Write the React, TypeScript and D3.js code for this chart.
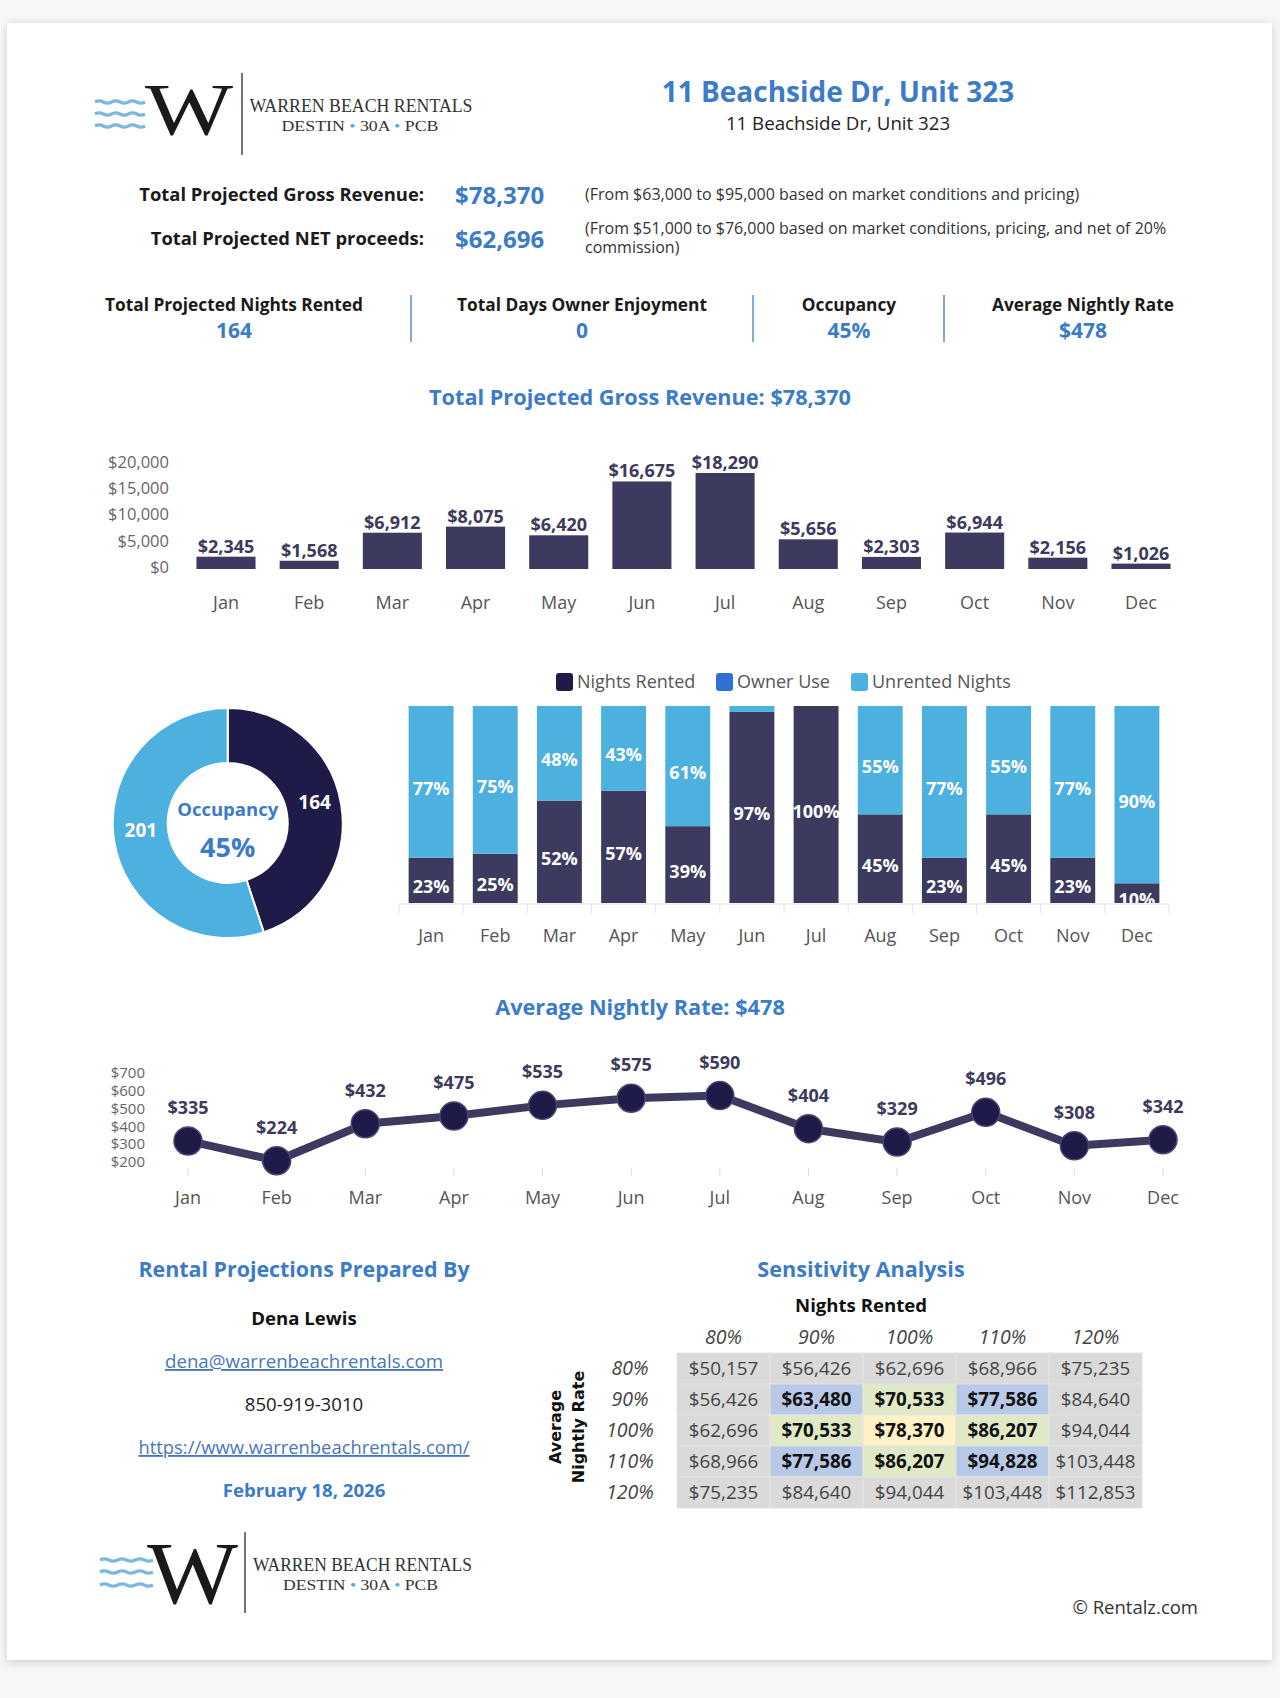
import React from 'react';
import * as d3 from 'd3';

// ---------- data ----------
const months = ['Jan', 'Feb', 'Mar', 'Apr', 'May', 'Jun', 'Jul', 'Aug', 'Sep', 'Oct', 'Nov', 'Dec'];
const revenue = [2345, 1568, 6912, 8075, 6420, 16675, 18290, 5656, 2303, 6944, 2156, 1026];
const revenueTicks = [0, 5000, 10000, 15000, 20000];

const stackSeries = ['Nights Rented', 'Owner Use', 'Unrented Nights'];
const rentedPct = [23, 25, 52, 57, 39, 97, 100, 45, 23, 45, 23, 10];
const ownerPct = [0, 0, 0, 0, 0, 0, 0, 0, 0, 0, 0, 0];
const unrentedPct = [77, 75, 48, 43, 61, 3, 0, 55, 77, 55, 77, 90];

const donutLabels = ['Nights Rented', 'Unrented Nights'];
const donutValues = [164, 201];
const occupancyLabel = '45%';

const nightlyRate = [335, 224, 432, 475, 535, 575, 590, 404, 329, 496, 308, 342];
const rateTicks = [200, 300, 400, 500, 600, 700];

const sensCols = ['80%', '90%', '100%', '110%', '120%'];
const sensRows = ['80%', '90%', '100%', '110%', '120%'];
const sensValues = [
  [50157, 56426, 62696, 68966, 75235],
  [56426, 63480, 70533, 77586, 84640],
  [62696, 70533, 78370, 86207, 94044],
  [68966, 77586, 86207, 94828, 103448],
  [75235, 84640, 94044, 103448, 112853],
];
const sensHighlight = [
  ['n', 'n', 'n', 'n', 'n'],
  ['n', 'b', 'g', 'b', 'n'],
  ['n', 'g', 'y', 'g', 'n'],
  ['n', 'b', 'g', 'b', 'n'],
  ['n', 'n', 'n', 'n', 'n'],
];

const kpiLabels = ['Total Projected Nights Rented', 'Total Days Owner Enjoyment', 'Occupancy', 'Average Nightly Rate'];
const kpiValues = ['164', '0', '45%', '$478'];

// ---------- styles ----------
const FONT = "'Open Sans', sans-serif";
const SERIF = "'Liberation Serif', 'DejaVu Serif', serif";
const BLUE = '#3b7bc8';
const BAR = '#3d3a60';
const NAVY = '#1f1b49';
const LIGHT = '#4db1e0';
const OWNER = '#2f6fd8';
const stackColors = [BAR, OWNER, LIGHT];
const cellFill: Record<string, string> = { n: '#dadada', b: '#b7c9e6', g: '#dfe9c6', y: '#fff2c6' };

const fmtMoney = d3.format('$,');

function wavePath(x0: number, x1: number, y: number, amp: number, n: number) {
  const w = (x1 - x0) / n;
  let d = `M${x0},${y}`;
  for (let i = 0; i < n; i++) {
    const cx = x0 + (i + 0.5) * w;
    const cy = y + (i % 2 === 0 ? -amp : amp);
    d += ` Q${cx},${cy} ${x0 + (i + 1) * w},${y}`;
  }
  return d;
}

function Logo(props: {
  wx0: number; wx1: number; wy: number[]; wX: number; wY: number; wSize: number; wLen: number;
  lineX: number; lineY0: number; lineY1: number; tX: number; tY: number; tLen: number; tSize: number;
  sX: number; sY: number; sLen: number; sSize: number;
}) {
  const p = props;
  return (
    <g>
      {p.wy.map((y, i) => (
        <path key={i} d={wavePath(p.wx0, p.wx1, y, 2.2, 6)} fill="none" stroke="#7ab9dd" strokeWidth={3.2} />
      ))}
      <text x={p.wX} y={p.wY} fontFamily={SERIF} fontSize={p.wSize} fill="#1a1a1a" textLength={p.wLen} lengthAdjust="spacingAndGlyphs">W</text>
      <line x1={p.lineX} x2={p.lineX} y1={p.lineY0} y2={p.lineY1} stroke="#444" strokeWidth={1.5} />
      <text x={p.tX} y={p.tY} fontFamily={SERIF} fontSize={p.tSize} fill="#333" textLength={p.tLen} lengthAdjust="spacingAndGlyphs">WARREN BEACH RENTALS</text>
      <text x={p.sX} y={p.sY} fontFamily={SERIF} fontSize={p.sSize} fill="#333" textLength={p.sLen} lengthAdjust="spacingAndGlyphs">
        DESTIN <tspan fill="#5aa8d6">•</tspan> 30A <tspan fill="#5aa8d6">•</tspan> PCB
      </text>
    </g>
  );
}

export default function App() {
  // revenue bar chart
  const xRev = d3.scaleBand<string>().domain(months).range([184.4, 1182.6]).paddingInner(0.29).paddingOuter(0.145);
  const yRev = d3.scaleLinear().domain([0, 20000]).range([569, 464]);

  // stacked chart
  const xSt = d3.scaleBand<string>().domain(months).range([399, 1169]).paddingInner(0.3).paddingOuter(0.15);
  const ySt = d3.scaleLinear().domain([0, 100]).range([903, 706]);
  const stackRows = months.map((m, i) => ({ month: m, 'Nights Rented': rentedPct[i], 'Owner Use': ownerPct[i], 'Unrented Nights': unrentedPct[i] }));
  const stacked = d3.stack<any>().keys(stackSeries)(stackRows);

  // donut
  const dcx = 227.7, dcy = 823;
  const pie = d3.pie<number>().sort(null).startAngle(0).endAngle(2 * Math.PI)(donutValues);
  const arc = d3.arc<d3.PieArcDatum<number>>().innerRadius(60).outerRadius(115);
  const labelArc = d3.arc<d3.PieArcDatum<number>>().innerRadius(88).outerRadius(88);

  // line chart
  const xLine = d3.scalePoint<string>().domain(months).range([188, 1163]);
  const yLine = d3.scaleLinear().domain([200, 700]).range([1165, 1076]);
  const linePath = d3.line<number>().x((_, i) => xLine(months[i])!).y((d) => yLine(d))(nightlyRate) || '';

  // sensitivity table
  const xTab = d3.scaleBand<string>().domain(sensCols).range([677, 1142]);
  const yTab = d3.scaleBand<string>().domain(sensRows).range([1353, 1508]);

  const kpiX = [234, 582, 849, 1083];
  const sepX = [411, 753, 944];

  return (
    <svg width={1280} height={1698} viewBox="0 0 1280 1698" style={{ position: 'absolute', left: 0, top: 0 }} fontFamily={FONT}>
      <defs>
        <filter id="shadow" x="-5%" y="-5%" width="110%" height="110%">
          <feDropShadow dx="0" dy="2" stdDeviation="5" floodColor="#000" floodOpacity="0.18" />
        </filter>
        <clipPath id="stackClip">
          <rect x={399} y={706} width={770} height={197} />
        </clipPath>
      </defs>
      <rect x={0} y={0} width={1280} height={1698} fill="#f7f7f7" />
      <rect x={7} y={23} width={1265} height={1637} fill="#fff" filter="url(#shadow)" />

      {/* header logo */}
      <Logo wx0={95} wx1={145} wy={[102, 114, 126]} wX={145} wY={135} wSize={75} wLen={88}
        lineX={242} lineY0={73} lineY1={155} tX={249.5} tY={112} tLen={223} tSize={19}
        sX={281.5} sY={131} sLen={157} sSize={15.5} />

      <text x={838} y={102} textAnchor="middle" fontSize={28} fontWeight={700} fill={BLUE}>11 Beachside Dr, Unit 323</text>
      <text x={838} y={130} textAnchor="middle" fontSize={18.7} fill="#222">11 Beachside Dr, Unit 323</text>

      {/* totals */}
      <text x={424} y={201} textAnchor="end" fontSize={18.4} fontWeight={700} fill="#1a1a1a">Total Projected Gross Revenue:</text>
      <text x={455} y={204} fontSize={24} fontWeight={700} fill={BLUE}>$78,370</text>
      <text x={585} y={200} fontSize={16} fill="#333">(From $63,000 to $95,000 based on market conditions and pricing)</text>
      <text x={424} y={245} textAnchor="end" fontSize={18.4} fontWeight={700} fill="#1a1a1a">Total Projected NET proceeds:</text>
      <text x={455} y={248} fontSize={24} fontWeight={700} fill={BLUE}>$62,696</text>
      <text x={585} y={234} fontSize={16} fill="#333">(From $51,000 to $76,000 based on market conditions, pricing, and net of 20%</text>
      <text x={585} y={253} fontSize={16} fill="#333">commission)</text>

      {/* KPIs */}
      {kpiLabels.map((l, i) => (
        <g key={l}>
          <text x={kpiX[i]} y={311} textAnchor="middle" fontSize={17.3} fontWeight={700} fill="#1a1a1a">{l}</text>
          <text x={kpiX[i]} y={338} textAnchor="middle" fontSize={21} fontWeight={700} fill={BLUE}>{kpiValues[i]}</text>
        </g>
      ))}
      {sepX.map((x) => (
        <line key={x} x1={x} x2={x} y1={295} y2={342} stroke="#5b8fcb" strokeWidth={1.5} />
      ))}

      {/* revenue chart */}
      <text x={640} y={405} textAnchor="middle" fontSize={21.7} fontWeight={700} fill={BLUE}>Total Projected Gross Revenue: $78,370</text>
      {revenueTicks.map((t) => (
        <text key={t} x={169} y={yRev(t) - 2} dy="0.35em" textAnchor="end" fontSize={16.5} fill="#666">{fmtMoney(t)}</text>
      ))}
      {revenue.map((v, i) => (
        <g key={months[i]}>
          <rect x={xRev(months[i])} y={yRev(v)} width={xRev.bandwidth()} height={yRev(0) - yRev(v)} fill={BAR} />
          <text x={xRev(months[i])! + xRev.bandwidth() / 2} y={yRev(v) - 4} textAnchor="middle" fontSize={18} fontWeight={700} fill="#3d3a5c">{fmtMoney(v)}</text>
          <text x={xRev(months[i])! + xRev.bandwidth() / 2} y={609} textAnchor="middle" fontSize={18} fill="#555">{months[i]}</text>
        </g>
      ))}

      {/* legend */}
      {stackSeries.map((s, i) => {
        const lx = [556, 716, 851][i];
        return (
          <g key={s}>
            <rect x={lx} y={673} width={17} height={18} rx={3} fill={i === 0 ? NAVY : stackColors[i]} />
            <text x={lx + 21} y={688} fontSize={18} fill="#555">{s}</text>
          </g>
        );
      })}

      {/* donut */}
      <g transform={`translate(${dcx},${dcy})`}>
        {pie.map((p, i) => (
          <path key={i} d={arc(p) || ''} fill={i === 0 ? NAVY : LIGHT} stroke="#fff" strokeWidth={2} />
        ))}
        {pie.map((p, i) => {
          const [lx, ly] = labelArc.centroid(p);
          return (
            <text key={'l' + i} x={lx} y={ly} dy="0.02em" textAnchor="middle" fontSize={19} fontWeight={700} fill="#fff">{donutValues[i]}</text>
          );
        })}
        <text x={0} y={-7} textAnchor="middle" fontSize={18.5} fontWeight={700} fill={BLUE}>Occupancy</text>
        <text x={0} y={34} textAnchor="middle" fontSize={27} fontWeight={700} fill={BLUE}>{occupancyLabel}</text>
      </g>

      {/* stacked bars */}
      <g clipPath="url(#stackClip)">
        {stacked.map((layer, si) => (
          <g key={layer.key} fill={stackColors[si]}>
            {layer.map((d, i) => (
              <rect key={i} x={xSt(months[i])} y={ySt(d[1])} width={xSt.bandwidth()} height={ySt(d[0]) - ySt(d[1])} />
            ))}
          </g>
        ))}
        {stacked.map((layer, si) => (
          <g key={'t' + layer.key}>
            {layer.map((d, i) => {
              const v = d[1] - d[0];
              if (v < 5) return null;
              return (
                <text key={i} x={xSt(months[i])! + xSt.bandwidth() / 2} y={(ySt(d[0]) + ySt(d[1])) / 2 + 13} textAnchor="middle" fontSize={18} fontWeight={700} fill="#fff">{v}%</text>
              );
            })}
          </g>
        ))}
      </g>
      <line x1={399} x2={1169} y1={904} y2={904} stroke="#e2e2e2" strokeWidth={1} />
      {d3.range(13).map((i) => {
        const x = 399 + i * xSt.step();
        return <line key={i} x1={x} x2={x} y1={904} y2={913} stroke="#e2e2e2" strokeWidth={1} />;
      })}
      {months.map((m) => (
        <text key={m} x={xSt(m)! + xSt.bandwidth() / 2} y={942} textAnchor="middle" fontSize={18} fill="#555">{m}</text>
      ))}

      {/* line chart */}
      <text x={640} y={1015} textAnchor="middle" fontSize={21.7} fontWeight={700} fill={BLUE}>Average Nightly Rate: $478</text>
      {rateTicks.map((t) => (
        <text key={t} x={145} y={yLine(t) - 3} dy="0.35em" textAnchor="end" fontSize={15} fill="#666">{fmtMoney(t)}</text>
      ))}
      {months.map((m) => (
        <g key={m}>
          <line x1={xLine(m)} x2={xLine(m)} y1={1168} y2={1176} stroke="#ddd" strokeWidth={1} />
          <text x={xLine(m)} y={1204} textAnchor="middle" fontSize={18} fill="#555">{m}</text>
        </g>
      ))}
      <path d={linePath} fill="none" stroke={BAR} strokeWidth={8} strokeLinejoin="round" />
      {nightlyRate.map((v, i) => (
        <g key={i}>
          <circle cx={xLine(months[i])} cy={yLine(v)} r={14} fill={NAVY} stroke="#4a4770" strokeWidth={1.5} />
          <text x={xLine(months[i])} y={yLine(v) - 27} textAnchor="middle" fontSize={18} fontWeight={700} fill="#3d3a5c">{fmtMoney(v)}</text>
        </g>
      ))}

      {/* contact block */}
      <text x={304} y={1277} textAnchor="middle" fontSize={21.4} fontWeight={700} fill={BLUE}>Rental Projections Prepared By</text>
      <text x={304} y={1325} textAnchor="middle" fontSize={18.6} fontWeight={700} fill="#111">Dena Lewis</text>
      <text x={304} y={1368} textAnchor="middle" fontSize={18.7} fill="#4a76b8" textDecoration="underline">dena@warrenbeachrentals.com</text>
      <text x={304} y={1411} textAnchor="middle" fontSize={18.6} fill="#222">850-919-3010</text>
      <text x={304} y={1454} textAnchor="middle" fontSize={18.4} fill="#4a76b8" textDecoration="underline">https://www.warrenbeachrentals.com/</text>
      <text x={304} y={1497} textAnchor="middle" fontSize={18.6} fontWeight={700} fill={BLUE}>February 18, 2026</text>

      {/* sensitivity */}
      <text x={861} y={1277} textAnchor="middle" fontSize={21.6} fontWeight={700} fill={BLUE}>Sensitivity Analysis</text>
      <text x={861} y={1312} textAnchor="middle" fontSize={18.6} fontWeight={700} fill="#111">Nights Rented</text>
      {sensCols.map((c) => (
        <text key={c} x={xTab(c)! + xTab.bandwidth() / 2} y={1344} textAnchor="middle" fontSize={19.5} fontStyle="italic" fill="#444">{c}</text>
      ))}
      {sensRows.map((r) => (
        <text key={r} x={630} y={yTab(r)! + yTab.bandwidth() / 2} dy="0.35em" textAnchor="middle" fontSize={19.5} fontStyle="italic" fill="#444">{r}</text>
      ))}
      <g transform="translate(566,1427) rotate(-90)">
        <text x={0} y={-5} textAnchor="middle" fontFamily="'DejaVu Sans', sans-serif" fontSize={16} fontWeight={700} fill="#111">Average</text>
        <text x={0} y={18} textAnchor="middle" fontFamily="'DejaVu Sans', sans-serif" fontSize={16} fontWeight={700} fill="#111">Nightly Rate</text>
      </g>
      {sensValues.map((row, ri) =>
        row.map((v, ci) => {
          const h = sensHighlight[ri][ci];
          return (
            <g key={ri + '-' + ci}>
              <rect x={xTab(sensCols[ci])} y={yTab(sensRows[ri])} width={xTab.bandwidth()} height={yTab.bandwidth()} fill={cellFill[h]} stroke="#e4e4e4" strokeWidth={1} />
              <text x={xTab(sensCols[ci])! + xTab.bandwidth() / 2} y={yTab(sensRows[ri])! + yTab.bandwidth() / 2} dy="0.36em" textAnchor="middle" fontSize={18.8} fontWeight={h === 'n' ? 400 : 700} fill={h === 'n' ? '#444' : '#111'}>{fmtMoney(v)}</text>
            </g>
          );
        })
      )}

      {/* footer */}
      <Logo wx0={100} wx1={153} wy={[1560, 1572, 1585]} wX={147} wY={1603} wSize={88} wLen={91}
        lineX={245} lineY0={1532} lineY1={1613} tX={253} tY={1571} tLen={219} tSize={19}
        sX={283} sY={1590} sLen={155} sSize={15.5} />
      <text x={1198} y={1614} textAnchor="end" fontSize={18.5} fill="#333">© Rentalz.com</text>
    </svg>
  );
}
